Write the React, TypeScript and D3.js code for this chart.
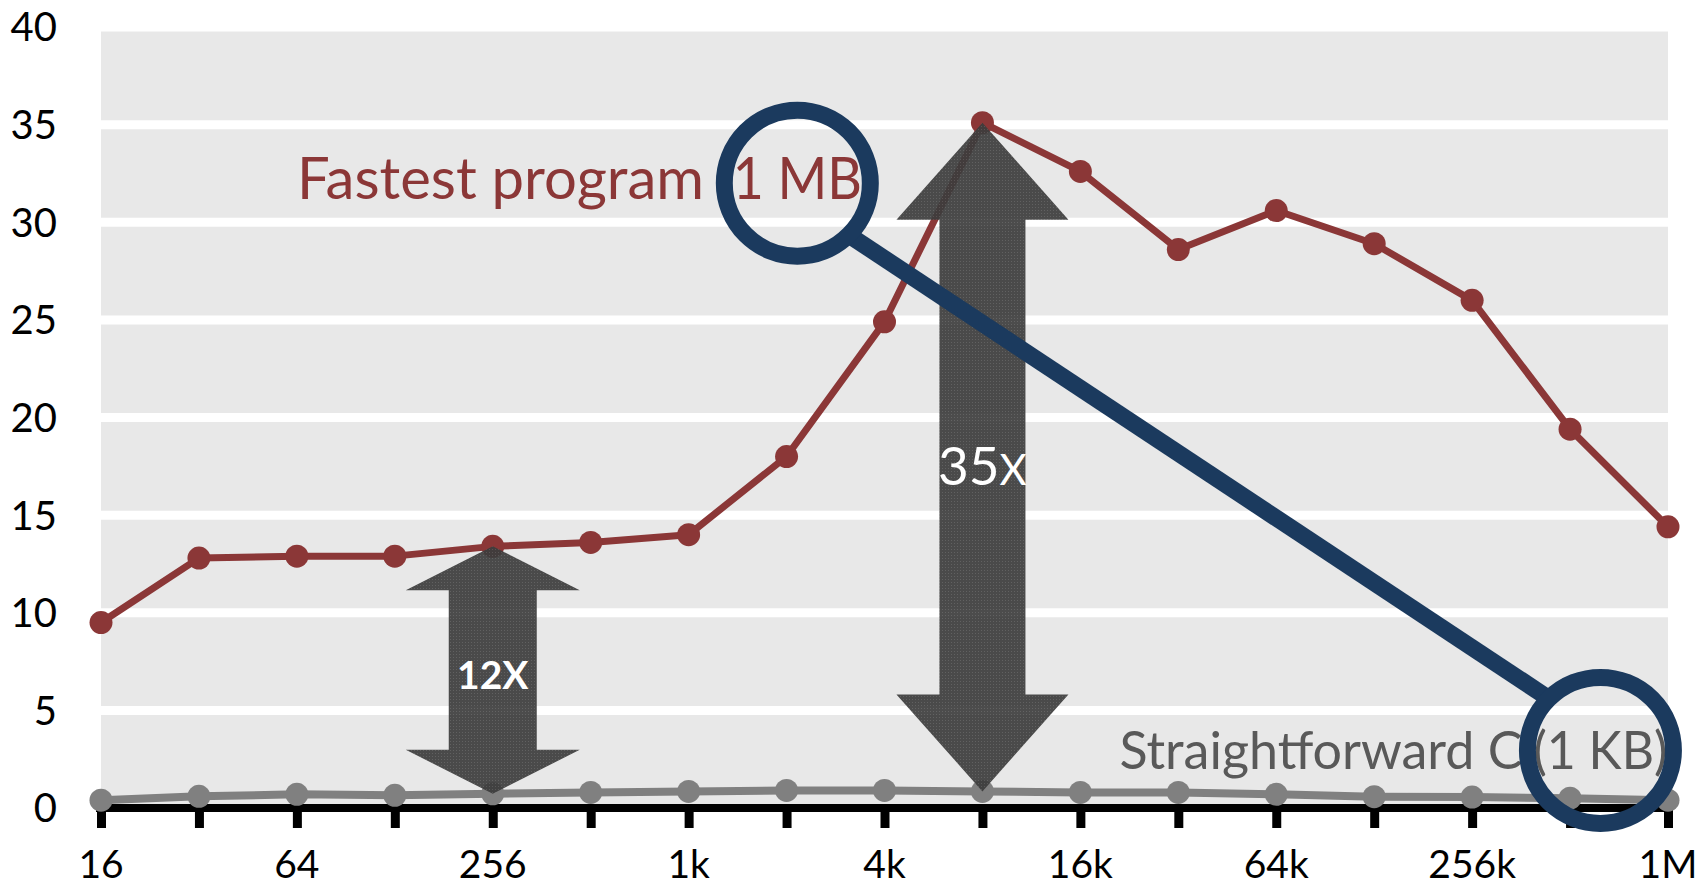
import React, { useEffect, useRef } from "react";
import * as d3 from "d3";

// matrix size (x) vs speedup (y)
const sizes = [16, 32, 64, 128, 256, 512, 1024, 2048, 4096, 8192, 16384, 32768, 65536, 131072, 262144, 524288, 1048576];
const tickLabels = ["16", "64", "256", "1k", "4k", "16k", "64k", "256k", "1M"];
const fastest = [9.5, 12.8, 12.9, 12.9, 13.4, 13.6, 14.0, 18.0, 24.9, 35.1, 32.6, 28.6, 30.6, 28.9, 26.0, 19.4, 14.4];
const straightC = [0.4, 0.6, 0.7, 0.65, 0.73, 0.8, 0.85, 0.9, 0.9, 0.85, 0.8, 0.8, 0.7, 0.58, 0.56, 0.5, 0.4];
const yTicks = [0, 5, 10, 15, 20, 25, 30, 35, 40];

// the two gaps marked with arrows
const gapSizes = [256, 8192];
const gapLabels = ["12X", "35X"];

// series labels, code size sits inside the magnifier ring
const seriesLabels = ["Fastest program", "Straightforward C"];
const codeSizes = ["(1 MB)", "(1 KB)"];
const labelSizes = [64, 21600];
const labelValues = [31.2, 2.0];

// magnifier rings and handle
const lensSizes = [2210, 650000];
const lensValues = [32, 2.95];
const handleSizes = [3280, 438000];
const handleValues = [29.2, 5.75];

const RED = "#8b3737";
const GREY = "#808080";
const NAVY = "#1b3a5e";
const FONT = "Lato, 'Open Sans', sans-serif";

const App = () => {
  const ref = useRef<SVGSVGElement>(null);

  useEffect(() => {
    const svg = d3.select(ref.current);
    svg.selectAll("*").remove();

    const x = d3.scaleLog().base(2).domain([16, 1048576]).range([101, 1668]);
    const y = d3.scaleLinear().domain([0, 40]).range([808, 27]);

    const defs = svg.append("defs");
    const pat = defs.append("pattern").attr("id", "dots").attr("width", 3).attr("height", 3)
      .attr("patternUnits", "userSpaceOnUse");
    pat.append("rect").attr("width", 3).attr("height", 3).attr("fill", "#3c3c3c");
    pat.append("rect").attr("width", 1).attr("height", 1).attr("fill", "#555");

    // plot background + gridlines
    svg.append("rect")
      .attr("x", x(16)).attr("y", y(40))
      .attr("width", x(1048576) - x(16)).attr("height", y(0) - y(40))
      .attr("fill", "#e8e8e8");
    svg.append("g").selectAll("line").data(yTicks.filter(d => d > 0)).enter().append("line")
      .attr("x1", x(16)).attr("x2", x(1048576))
      .attr("y1", d => y(d)).attr("y2", d => y(d))
      .attr("stroke", "#fff").attr("stroke-width", 9);

    // y labels
    svg.append("g").selectAll("text").data(yTicks).enter().append("text")
      .attr("x", 57).attr("y", d => y(d))
      .attr("dy", "0.36em")
      .attr("text-anchor", "end")
      .attr("font-family", FONT).attr("font-size", 40).attr("fill", "#000")
      .text(d => d);

    // x axis
    const xa = svg.append("g").attr("transform", "translate(0," + y(0) + ")")
      .call(d3.axisBottom(x).tickValues(sizes).tickSize(20).tickSizeOuter(0).tickFormat(() => ""));
    xa.select(".domain").attr("stroke", "#000").attr("stroke-width", 8)
      .attr("d", "M" + (x(16) - 5) + ",0H" + (x(1048576) + 5));
    xa.selectAll(".tick line").attr("stroke", "#000").attr("stroke-width", 9);
    svg.append("g").selectAll("text").data(sizes.filter((d, i) => i % 2 === 0)).enter().append("text")
      .attr("x", d => x(d)).attr("y", 878)
      .attr("text-anchor", "middle")
      .attr("font-family", FONT).attr("font-size", 39).attr("fill", "#000")
      .text((d, i) => tickLabels[i]);

    // series
    const line = d3.line<number>().x((d, i) => x(sizes[i])).y(d => y(d));
    const drawSeries = (vals: number[], color: string, w: number, r: number) => {
      svg.append("path").datum(vals).attr("d", line).attr("fill", "none")
        .attr("stroke", color).attr("stroke-width", w).attr("stroke-linejoin", "round");
      svg.append("g").selectAll("circle").data(vals).enter().append("circle")
        .attr("cx", (d, i) => x(sizes[i])).attr("cy", d => y(d)).attr("r", r).attr("fill", color);
    };
    drawSeries(straightC, GREY, 8, 11.5);
    drawSeries(fastest, RED, 7, 11.5);

    // gap arrows
    const arrowDims = [{ head: 174, shaft: 88, hh: 44 }, { head: 172, shaft: 86, hh: 97 }];
    gapSizes.forEach((s, k) => {
      const idx = sizes.indexOf(s);
      const cx = x(s), top = y(fastest[idx]), bot = y(straightC[idx]);
      const { head, shaft, hh } = arrowDims[k];
      const p = d3.path();
      p.moveTo(cx, top);
      p.lineTo(cx + head / 2, top + hh);
      p.lineTo(cx + shaft / 2, top + hh);
      p.lineTo(cx + shaft / 2, bot - hh);
      p.lineTo(cx + head / 2, bot - hh);
      p.lineTo(cx, bot);
      p.lineTo(cx - head / 2, bot - hh);
      p.lineTo(cx - shaft / 2, bot - hh);
      p.lineTo(cx - shaft / 2, top + hh);
      p.lineTo(cx - head / 2, top + hh);
      p.closePath();
      svg.append("path").attr("d", p.toString()).attr("fill", "url(#dots)").attr("opacity", 0.92);
    });
    // 12X label
    svg.append("text").attr("x", x(gapSizes[0])).attr("y", 689)
      .attr("text-anchor", "middle").attr("font-family", FONT).attr("font-weight", 700)
      .attr("font-size", 39).attr("fill", "#fff").text(gapLabels[0]);
    // 35X label, smaller X
    const t35 = svg.append("text").attr("x", x(gapSizes[1])).attr("y", 485)
      .attr("text-anchor", "middle").attr("font-family", FONT).attr("fill", "#fff");
    t35.append("tspan").attr("font-size", 53).text(gapLabels[1].slice(0, 2));
    t35.append("tspan").attr("font-size", 42).text(gapLabels[1].slice(2));

    // series labels
    const labelFont = [58, 52];
    const labelColor = [RED, "#595959"];
    const noteWidth = [158, 134];
    seriesLabels.forEach((s, k) => {
      const by = y(labelValues[k]);
      svg.append("text").attr("x", x(labelSizes[k])).attr("y", by)
        .attr("font-family", FONT).attr("font-size", labelFont[k]).attr("fill", labelColor[k])
        .text(s);
      svg.append("text").attr("x", x(lensSizes[k])).attr("y", by)
        .attr("text-anchor", "middle")
        .attr("textLength", noteWidth[k]).attr("lengthAdjust", "spacingAndGlyphs")
        .attr("font-family", FONT).attr("font-size", labelFont[k]).attr("fill", labelColor[k])
        .text(codeSizes[k]);
    });

    // magnifier
    svg.append("line")
      .attr("x1", x(handleSizes[0])).attr("y1", y(handleValues[0]))
      .attr("x2", x(handleSizes[1])).attr("y2", y(handleValues[1]))
      .attr("stroke", NAVY).attr("stroke-width", 17);
    svg.append("g").selectAll("circle").data(lensSizes).enter().append("circle")
      .attr("cx", d => x(d)).attr("cy", (d, i) => y(lensValues[i])).attr("r", 73)
      .attr("fill", "none").attr("stroke", NAVY).attr("stroke-width", 17);
  }, []);

  return (
    <svg ref={ref} width={1705} height={887} style={{ position: "absolute", left: 0, top: 0, background: "#fff" }} />
  );
};

export default App;
